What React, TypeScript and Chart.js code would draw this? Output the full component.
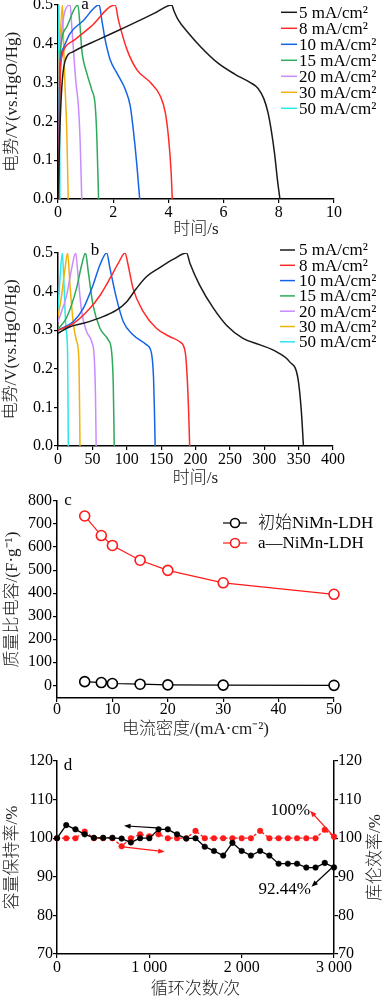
import React, { useEffect, useRef } from "react";
import { Chart, registerables } from "chart.js";

Chart.register(...registerables);

const FONT = "'Liberation Serif', 'Noto Sans CJK SC', serif";
Chart.defaults.font.family = FONT;
Chart.defaults.color = "#000";

// ---------- shared ----------
const curveLabels = ["5 mA/cm²", "8 mA/cm²", "10 mA/cm²", "15 mA/cm²", "20 mA/cm²", "30 mA/cm²", "50 mA/cm²"];
const curveColors = ["#1a1a1a", "#ff2a2a", "#1464e6", "#2daa5a", "#c98bff", "#f2b20a", "#2de6ea"];

// ---------- panel a (time / s, potential / V) ----------
const aT5 = [0, 0.06, 0.13, 0.25, 0.56, 1.5, 2.5, 3.5, 4.12, 4.2, 4.35, 4.7, 5.2, 5.8, 6.4, 6.97, 7.25, 7.46, 7.6, 7.72, 7.85, 7.95, 8.04];
const aV5 = [0, 0.16, 0.28, 0.354, 0.38, 0.412, 0.445, 0.479, 0.5, 0.485, 0.462, 0.43, 0.39, 0.35, 0.322, 0.3, 0.285, 0.258, 0.225, 0.18, 0.115, 0.05, 0];
const aT8 = [0.02, 0.05, 0.09, 0.15, 0.25, 0.6, 1.2, 2.07, 2.19, 2.5, 2.86, 3.35, 3.71, 3.89, 4.01, 4.1, 4.14];
const aV8 = [0, 0.2, 0.33, 0.37, 0.39, 0.41, 0.445, 0.5, 0.461, 0.385, 0.333, 0.3, 0.265, 0.222, 0.154, 0.068, 0];
const aT10 = [0.02, 0.05, 0.1, 0.2, 0.44, 0.92, 1.49, 1.59, 1.71, 1.89, 2.13, 2.44, 2.62, 2.74, 2.86, 2.96];
const aV10 = [0, 0.25, 0.36, 0.39, 0.427, 0.46, 0.5, 0.46, 0.41, 0.359, 0.325, 0.282, 0.239, 0.171, 0.085, 0];
const aT15 = [0.02, 0.05, 0.1, 0.32, 0.72, 0.8, 0.86, 1.04, 1.22, 1.35, 1.41, 1.47];
const aV15 = [0, 0.3, 0.39, 0.444, 0.5, 0.444, 0.385, 0.325, 0.282, 0.239, 0.154, 0];
const aT20 = [0.01, 0.04, 0.08, 0.44, 0.5, 0.56, 0.65, 0.74, 0.8, 0.86];
const aV20 = [0, 0.3, 0.39, 0.5, 0.444, 0.385, 0.3, 0.239, 0.154, 0];
const aT30 = [0.01, 0.03, 0.06, 0.16, 0.19, 0.25, 0.32, 0.37];
const aV30 = [0, 0.3, 0.38, 0.5, 0.427, 0.3, 0.171, 0];
const aT50 = [0, 0.01, 0.03, 0.045, 0.06, 0.07];
const aV50 = [0, 0.3, 0.5, 0.35, 0.2, 0];
const aXTicks = [0, 2, 4, 6, 8, 10];
const abYTicks = [0, 0.1, 0.2, 0.3, 0.4, 0.5];

// ---------- panel b ----------
const bT5 = [0, 17.4, 36.8, 61, 85, 100, 114, 129, 148, 168, 187, 192, 206, 226, 245, 269, 294, 318, 337, 349, 354, 357];
const bV5 = [0.292, 0.309, 0.318, 0.332, 0.352, 0.374, 0.408, 0.439, 0.462, 0.484, 0.5, 0.473, 0.417, 0.357, 0.313, 0.279, 0.262, 0.244, 0.218, 0.175, 0.089, 0];
const bT8 = [0, 22, 46.5, 61, 75.6, 87.6, 97.4, 102, 109, 124, 143, 163, 177, 185, 188, 190, 191.5];
const bV8 = [0.3, 0.317, 0.357, 0.39, 0.434, 0.473, 0.5, 0.469, 0.409, 0.348, 0.305, 0.283, 0.27, 0.244, 0.175, 0.089, 0];
const bT10 = [0, 22, 37, 51, 61, 70.8, 75.6, 85, 95, 109, 129, 136, 139, 140.3, 141.3];
const bV10 = [0.3, 0.322, 0.357, 0.417, 0.469, 0.5, 0.46, 0.383, 0.322, 0.288, 0.262, 0.24, 0.175, 0.089, 0];
const bT15 = [0, 12.6, 27, 34.4, 40, 44, 51, 61, 73, 78, 80.4, 81.8];
const bV15 = [0.303, 0.333, 0.409, 0.469, 0.5, 0.452, 0.365, 0.305, 0.275, 0.244, 0.158, 0];
const bT20 = [0, 12.6, 19.9, 25.7, 29.5, 34.4, 41.7, 49, 52.8, 54.5, 55.5];
const bV20 = [0.322, 0.391, 0.46, 0.5, 0.434, 0.348, 0.296, 0.27, 0.227, 0.132, 0];
const bT30 = [0, 5.3, 10.2, 14, 17.4, 22, 27, 30.5, 32];
const bV30 = [0.335, 0.391, 0.46, 0.5, 0.417, 0.322, 0.272, 0.22, 0];
const bT50 = [0, 2.9, 6.3, 8.7, 11.6, 14, 15];
const bV50 = [0.348, 0.434, 0.5, 0.417, 0.305, 0.236, 0];
const bXTicks = [0, 50, 100, 150, 200, 250, 300, 350, 400];

// ---------- panel c ----------
const cCurrent = [5, 8, 10, 15, 20, 30, 50];
const cPristine = [16, 12, 8, 5, 2, 1, 0];
const cActivated = [735, 650, 607, 543, 499, 445, 395];
const cLegend = ["初始NiMn-LDH", "a—NiMn-LDH"];
const cXTicks = [0, 10, 20, 30, 40, 50];
const cYTicks = [0, 100, 200, 300, 400, 500, 600, 700, 800];

// ---------- panel d ----------
const dCycles = [0, 100, 200, 300, 400, 500, 600, 700, 800, 900, 1000, 1100, 1200, 1300, 1400, 1500, 1600, 1700, 1800, 1900, 2000, 2100, 2200, 2300, 2400, 2500, 2600, 2700, 2800, 2900, 3000];
const dRetention = [100, 103.4, 102.3, 101.0, 100.1, 100.1, 100.1, 99.9, 98.9, 100, 100, 102.3, 102.3, 101, 99.9, 100, 97.8, 96.7, 95.5, 98.8, 96.7, 95.5, 96.7, 95.5, 93.4, 93.4, 93.4, 92.4, 92.4, 93.6, 92.44];
const dEfficiency = [100, 100, 100, 101.7, 100, 100, 100, 97.9, 100, 101, 100.5, 101, 100, 100, 100, 101.9, 100, 100, 100, 100, 100, 100, 101.9, 100, 100, 100, 100, 100, 100, 102.2, 100.4];
const dXTicks = [0, 1000, 2000, 3000];
const dXTickLabels = ["0", "1 000", "2 000", "3 000"];
const dYTicks = [70, 80, 90, 100, 110, 120];
// annotation arrows: [tailX, tailY, headX, headY]
const dArrowRetention = [1080, 102.7, 726, 103.2];
const dArrowEfficiency = [690, 97.8, 1167, 96.5];
const dArrow100 = [3000, 100.4, 2741, 107.1];
const dArrow9244 = [2998, 92.8, 2756, 87.4];
const dText100 = [2527, 107.25];
const dText9244 = [2467, 86.6];

// ---------- helpers ----------
const pts = (xs: number[], ys: number[]) => xs.map((x, i) => ({ x, y: ys[i] }));
const setTicks = (vals: number[]) => (s: any) => {
  s.ticks = vals.map((v) => ({ value: v }));
};
const TITLE_COLOR = "#1c1c1c";

function baseAxis(extra: any) {
  return {
    type: "linear",
    border: { display: true, color: "#000", width: 1.5 },
    grid: { display: true, drawOnChartArea: false, drawTicks: true, tickLength: 4, color: "#000", lineWidth: 1.2 },
    ...extra,
    ticks: { color: "#000", font: { family: FONT, size: 16 }, padding: 0, autoSkip: false, maxRotation: 0, ...(extra.ticks || {}) },
  };
}

function titleOpt(text: string, padding: any) {
  return { display: true, text, color: TITLE_COLOR, font: { family: FONT, size: 17, weight: "300" }, padding };
}

function drawText(ctx: any, text: string, x: number, y: number, align = "center", baseline = "alphabetic", size = 17, weight = "normal") {
  ctx.save();
  ctx.font = `${weight} ${size}px ${FONT}`;
  ctx.fillStyle = "#000";
  ctx.textAlign = align;
  ctx.textBaseline = baseline;
  ctx.fillText(text, x, y);
  ctx.restore();
}

function drawArrow(ctx: any, x1: number, y1: number, x2: number, y2: number, color: string) {
  const head = 7;
  const a = Math.atan2(y2 - y1, x2 - x1);
  ctx.save();
  ctx.strokeStyle = color;
  ctx.fillStyle = color;
  ctx.lineWidth = 1.2;
  ctx.beginPath();
  ctx.moveTo(x1, y1);
  ctx.lineTo(x2 - Math.cos(a) * 3, y2 - Math.sin(a) * 3);
  ctx.stroke();
  ctx.beginPath();
  ctx.moveTo(x2, y2);
  ctx.lineTo(x2 - head * Math.cos(a - 0.38), y2 - head * Math.sin(a - 0.38));
  ctx.lineTo(x2 - head * Math.cos(a + 0.38), y2 - head * Math.sin(a + 0.38));
  ctx.closePath();
  ctx.fill();
  ctx.restore();
}

function drawCurveLegend(ctx: any, area: any, lx0: number, lx1: number, tx: number, y0: number, dy: number) {
  ctx.save();
  ctx.font = `17px ${FONT}`;
  ctx.textBaseline = "middle";
  ctx.textAlign = "left";
  ctx.fillStyle = "#000";
  curveLabels.forEach((t, i) => {
    const y = area.top + y0 + dy * i;
    ctx.strokeStyle = curveColors[i];
    ctx.lineWidth = 1.5;
    ctx.beginPath();
    ctx.moveTo(area.left + lx0, y);
    ctx.lineTo(area.left + lx1, y);
    ctx.stroke();
    ctx.fillText(t, area.left + tx, y + 1);
  });
  ctx.restore();
}

function curveDatasets(series: [number[], number[]][]) {
  return series.map(([t, v], i) => ({
    label: curveLabels[i],
    data: pts(t, v),
    borderColor: curveColors[i],
    borderWidth: 1.5,
    pointRadius: 0,
    fill: false,
    cubicInterpolationMode: "monotone",
  }));
}

const commonOpts = {
  animation: false,
  responsive: false,
  events: [],
  plugins: { legend: { display: false }, tooltip: { enabled: false } },
};

// ---------- configs ----------
function makeA(): any {
  return {
    type: "line",
    data: {
      datasets: curveDatasets([
        [aT5, aV5], [aT8, aV8], [aT10, aV10], [aT15, aV15], [aT20, aV20], [aT30, aV30], [aT50, aV50],
      ]),
    },
    options: {
      ...commonOpts,
      layout: { padding: { top: 20, right: 52, bottom: 0, left: 0 } },
      scales: {
        x: baseAxis({
          min: 0, max: 10,
          afterBuildTicks: setTicks(aXTicks),
          afterFit: (s: any) => { s.height = 41; },
          title: titleOpt("时间/s", { top: 0, bottom: 0 }),
        }),
        y: baseAxis({
          min: 0, max: 0.5,
          afterBuildTicks: setTicks(abYTicks),
          afterFit: (s: any) => { s.width = 58; },
          ticks: { callback: (v: any) => Number(v).toFixed(1), padding: 1 },
          title: titleOpt("电势/V(vs.HgO/Hg)", { top: 2, bottom: 0 }),
        }),
      },
    },
    plugins: [{
      id: "extraA",
      afterDraw(chart: any) {
        const { ctx, chartArea } = chart;
        drawText(ctx, "a", chartArea.left + 27, chartArea.top + 4);
        drawCurveLegend(ctx, chartArea, 223, 239, 241, 7.3, 16);
      },
    }],
  };
}

function makeB(): any {
  return {
    type: "line",
    data: {
      datasets: curveDatasets([
        [bT5, bV5], [bT8, bV8], [bT10, bV10], [bT15, bV15], [bT20, bV20], [bT30, bV30], [bT50, bV50],
      ]),
    },
    options: {
      ...commonOpts,
      layout: { padding: { top: 20, right: 53, bottom: 0, left: 0 } },
      scales: {
        x: baseAxis({
          min: 0, max: 400,
          afterBuildTicks: setTicks(bXTicks),
          afterFit: (s: any) => { s.height = 44; },
          title: titleOpt("时间/s", { top: 0, bottom: 1 }),
        }),
        y: baseAxis({
          min: 0, max: 0.5,
          afterBuildTicks: setTicks(abYTicks),
          afterFit: (s: any) => { s.width = 58; },
          ticks: { callback: (v: any) => Number(v).toFixed(1), padding: 1 },
          title: titleOpt("电势/V(vs.HgO/Hg)", { top: 1.5, bottom: 0 }),
        }),
      },
    },
    plugins: [{
      id: "extraB",
      afterDraw(chart: any) {
        const { ctx, chartArea } = chart;
        drawText(ctx, "b", chartArea.left + 37, chartArea.top + 2);
        drawCurveLegend(ctx, chartArea, 222, 237, 241, -3, 15.3);
      },
    }],
  };
}

function makeC(): any {
  const mk = (label: string, ys: number[], color: string) => ({
    label,
    data: pts(cCurrent, ys),
    borderColor: color,
    borderWidth: 1.2,
    pointRadius: 5,
    pointBorderWidth: 1.6,
    pointBackgroundColor: "#fff",
    pointBorderColor: color,
    fill: false,
    clip: false,
  });
  return {
    type: "line",
    data: { datasets: [mk(cLegend[0], cPristine, "#000"), mk(cLegend[1], cActivated, "#ff1a1a")] },
    options: {
      ...commonOpts,
      layout: { padding: { top: 20, right: 52, bottom: 0, left: 0 } },
      scales: {
        x: baseAxis({
          min: 0, max: 50,
          afterBuildTicks: setTicks(cXTicks),
          afterFit: (s: any) => { s.height = 44; },
          ticks: { padding: -2 },
          title: titleOpt("电流密度/(mA·cm⁻²)", { top: 0, bottom: 1.8 }),
        }),
        y: baseAxis({
          min: -55, max: 800,
          afterBuildTicks: setTicks(cYTicks),
          afterFit: (s: any) => { s.width = 57; },
          ticks: { padding: 1 },
          title: titleOpt("质量比电容/(F·g⁻¹)", { top: 2, bottom: 0 }),
        }),
      },
    },
    plugins: [{
      id: "extraC",
      afterDraw(chart: any) {
        const { ctx, chartArea } = chart;
        drawText(ctx, "c", chartArea.left + 11, chartArea.top + 4);
        const colors = ["#000", "#ff1a1a"];
        cLegend.forEach((t, i) => {
          const y = chartArea.top + 22 + 20 * i;
          const x0 = chartArea.left + 166;
          ctx.save();
          ctx.strokeStyle = colors[i];
          ctx.lineWidth = 1.2;
          ctx.beginPath();
          ctx.moveTo(x0, y);
          ctx.lineTo(x0 + 24, y);
          ctx.stroke();
          ctx.fillStyle = "#fff";
          ctx.lineWidth = 1.6;
          ctx.beginPath();
          ctx.arc(x0 + 12, y, 4.5, 0, Math.PI * 2);
          ctx.fill();
          ctx.stroke();
          ctx.restore();
          drawText(ctx, t, x0 + 35, y + 1, "left", "middle", 17, "300");
        });
      },
    }],
  };
}

function makeD(): any {
  return {
    type: "line",
    data: {
      datasets: [
        {
          label: "容量保持率",
          data: pts(dCycles, dRetention),
          yAxisID: "y",
          borderColor: "#000",
          borderWidth: 1.3,
          pointRadius: 2.8,
          pointBackgroundColor: "#000",
          pointBorderColor: "#000",
          pointBorderWidth: 0.5,
          fill: false,
          clip: false,
        },
        {
          label: "库伦效率",
          data: pts(dCycles, dEfficiency),
          yAxisID: "y1",
          borderColor: "#ff1a1a",
          borderWidth: 1.3,
          borderDash: [3, 2],
          pointRadius: 2.8,
          pointBackgroundColor: "#ff1a1a",
          pointBorderColor: "#ff1a1a",
          pointBorderWidth: 0.5,
          fill: false,
          clip: false,
        },
      ],
    },
    options: {
      ...commonOpts,
      layout: { padding: { top: 20, right: 0, bottom: 0, left: 0 } },
      scales: {
        x: baseAxis({
          min: 0, max: 3000,
          afterBuildTicks: setTicks(dXTicks),
          afterFit: (s: any) => { s.height = 46; },
          ticks: { callback: (v: any) => dXTickLabels[dXTicks.indexOf(Number(v))], padding: 0 },
          title: titleOpt("循环次数/次", { top: 0, bottom: 0 }),
        }),
        y: baseAxis({
          position: "left",
          min: 70, max: 120,
          afterBuildTicks: setTicks(dYTicks),
          afterFit: (s: any) => { s.width = 57; },
          ticks: { padding: 0 },
          title: titleOpt("容量保持率/%", { top: 2, bottom: 0 }),
        }),
        y1: baseAxis({
          position: "right",
          min: 70, max: 120,
          afterBuildTicks: setTicks(dYTicks),
          afterFit: (s: any) => { s.width = 52; },
          ticks: { padding: 0 },
        }),
      },
    },
    plugins: [{
      id: "extraD",
      afterDraw(chart: any) {
        const { ctx, chartArea, scales } = chart;
        const { x, y, y1 } = scales;
        drawText(ctx, "d", chartArea.left + 11, chartArea.top + 8.5);
        const arr = (a: number[], ys: any, color: string) =>
          drawArrow(ctx, x.getPixelForValue(a[0]), ys.getPixelForValue(a[1]), x.getPixelForValue(a[2]), ys.getPixelForValue(a[3]), color);
        arr(dArrowRetention, y, "#000");
        arr(dArrowEfficiency, y1, "#ff1a1a");
        arr(dArrow100, y1, "#ff1a1a");
        arr(dArrow9244, y, "#000");
        drawText(ctx, "100%", x.getPixelForValue(dText100[0]), y.getPixelForValue(dText100[1]), "center", "middle", 17);
        drawText(ctx, "92.44%", x.getPixelForValue(dText9244[0]), y.getPixelForValue(dText9244[1]), "center", "middle", 17);
        // right axis title, reading bottom-to-top like the left one
        ctx.save();
        ctx.translate(376, (chartArea.top + chartArea.bottom) / 2);
        ctx.rotate(-Math.PI / 2);
        ctx.font = `300 17px ${FONT}`;
        ctx.fillStyle = TITLE_COLOR;
        ctx.textAlign = "center";
        ctx.textBaseline = "middle";
        ctx.fillText("库伦效率/%", 0, 0);
        ctx.restore();
      },
    }],
  };
}

function Panel({ top, height, make }: { top: number; height: number; make: () => any }) {
  const ref = useRef<HTMLCanvasElement>(null);
  useEffect(() => {
    const chart = new Chart(ref.current as HTMLCanvasElement, make());
    return () => chart.destroy();
  }, []);
  return (
    <canvas
      ref={ref}
      width={386}
      height={height}
      style={{ position: "absolute", left: 0, top, width: 386, height, display: "block" }}
    />
  );
}

export default function App() {
  return (
    <div style={{ position: "absolute", left: 0, top: 0, width: 386, height: 1000, overflow: "hidden", background: "#fff" }}>
      <Panel top={-15} height={255} make={makeA} />
      <Panel top={233} height={257} make={makeB} />
      <Panel top={481} height={261} make={makeC} />
      <Panel top={741} height={259} make={makeD} />
    </div>
  );
}
